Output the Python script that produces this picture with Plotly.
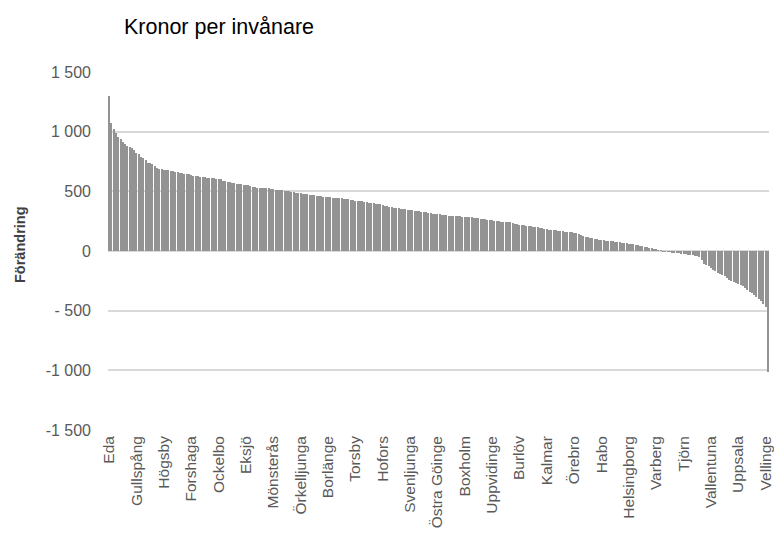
import plotly.graph_objects as go

title_text = "Kronor per invånare"
y_title = "Förändring"

# Changes, sorted descending (one value per municipality, 290 in total)
values = [
    1300, 1069, 1019, 985, 957, 935, 916, 893, 879, 873,
    860, 846, 818, 810, 790, 776, 762, 740, 734, 729,
    712, 692, 687, 684, 678, 678, 675, 673, 667, 664,
    659, 656, 651, 648, 645, 645, 639, 631, 628, 626,
    622, 620, 617, 614, 611, 609, 608, 607, 604, 600,
    588, 585, 582, 577, 568, 566, 563, 563, 560, 557,
    554, 549, 546, 540, 537, 532, 532, 529, 529, 529,
    526, 521, 518, 515, 512, 512, 510, 507, 504, 501,
    498, 496, 490, 482, 482, 479, 479, 476, 473, 470,
    468, 462, 459, 459, 456, 454, 454, 451, 448, 446,
    445, 442, 440, 437, 435, 432, 428, 425, 423, 420,
    418, 415, 412, 409, 405, 402, 399, 396, 393, 390,
    385, 380, 375, 370, 366, 363, 360, 357, 354, 351,
    349, 347, 345, 342, 339, 337, 334, 331, 328, 325,
    322, 318, 314, 311, 309, 307, 305, 302, 299, 297,
    295, 293, 292, 291, 290, 289, 288, 287, 285, 281,
    278, 276, 274, 271, 268, 265, 262, 259, 256, 252,
    250, 248, 246, 244, 242, 241, 239, 236, 230, 226,
    222, 219, 216, 213, 210, 207, 204, 201, 197, 194,
    190, 186, 182, 180, 177, 175, 173, 171, 168, 165,
    162, 160, 158, 156, 152, 148, 140, 132, 124, 118,
    114, 110, 106, 102, 99, 95, 92, 89, 87, 85,
    83, 81, 79, 77, 74, 71, 68, 65, 62, 59,
    56, 53, 50, 46, 42, 37, 32, 27, 22, 18,
    13, 8, 4, -2, -4, -6, -8, -10, -12, -15,
    -18, -21, -25, -28, -30, -33, -36, -40, -45, -52,
    -75, -113, -118, -127, -140, -155, -170, -183, -195, -205,
    -211, -225, -239, -250, -260, -267, -275, -285, -295, -310,
    -323, -340, -351, -370, -385, -400, -420, -440, -470, -1010,
]

# Visible category labels (every 12th municipality)
x_labels = [
    "Eda", "Gullspång", "Högsby", "Forshaga", "Ockelbo", "Eksjö",
    "Mönsterås", "Örkelljunga", "Borlänge", "Torsby", "Hofors",
    "Svenljunga", "Östra Göinge", "Boxholm", "Uppvidinge", "Burlöv",
    "Kalmar", "Örebro", "Habo", "Helsingborg", "Varberg", "Tjörn",
    "Vallentuna", "Uppsala", "Vellinge",
]
label_step = 12

y_tick_vals = [1500, 1000, 500, 0, -500, -1000, -1500]
y_tick_text = ["1 500", "1 000", "500", "0", "- 500", "-1 000", "-1 500"]

x = list(range(len(values)))
x_tick_vals = list(range(0, len(values), label_step))[: len(x_labels)]

font_main = "Liberation Sans, Arial, sans-serif"

# The page body has an 8px default margin; keep the figure inside the visible page
PAGE_OFF = 8
W, H = 782 - 2 * PAGE_OFF, 536 - PAGE_OFF
L, R, T = 108 - PAGE_OFF, 5, 72 - PAGE_OFF
B = H - (430 - PAGE_OFF)
plot_w = W - L - R
plot_h = H - T - B

fig = go.Figure(
    go.Bar(
        x=x,
        y=values,
        width=0.45,
        marker=dict(color="#939393", line=dict(width=0)),
        hoverinfo="x+y",
    )
)

fig.update_layout(
    width=W,
    height=H,
    paper_bgcolor="white",
    plot_bgcolor="white",
    margin=dict(l=L, r=R, t=T, b=B, autoexpand=False),
    showlegend=False,
    bargap=0,
    title=dict(
        text=title_text,
        xref="container",
        yref="container",
        x=(124 - PAGE_OFF) / W,
        xanchor="left",
        y=1 - (26 - PAGE_OFF) / H,
        yanchor="middle",
        font=dict(family=font_main, size=21.5, color="#000000"),
    ),
    annotations=[
        dict(
            text="<b>" + y_title + "</b>",
            xref="paper",
            yref="paper",
            x=(20 - 108) / plot_w,
            y=0.5 + 6 / plot_h,
            xanchor="center",
            yanchor="middle",
            textangle=-90,
            showarrow=False,
            font=dict(family=font_main, size=14.5, color="#404040"),
        )
    ],
)

fig.update_xaxes(
    range=[-0.5, len(values) - 0.5],
    tickmode="array",
    tickvals=x_tick_vals,
    ticktext=x_labels,
    tickangle=-90,
    tickfont=dict(family=font_main, size=15.5, color="#595959"),
    showgrid=False,
    zeroline=False,
    showline=False,
    ticks="",
    automargin=False,
    ticklabelstandoff=2,
    ticklabeloverflow="allow",
)

fig.update_yaxes(
    range=[-1500, 1500],
    tickmode="array",
    tickvals=y_tick_vals,
    ticktext=y_tick_text,
    tickfont=dict(family=font_main, size=16, color="#595959"),
    showgrid=True,
    gridcolor="#d9d9d9",
    gridwidth=1.5,
    zeroline=False,
    showline=False,
    ticks="",
    automargin=False,
    ticklabelstandoff=16,
)

fig.write_html("out.html")
